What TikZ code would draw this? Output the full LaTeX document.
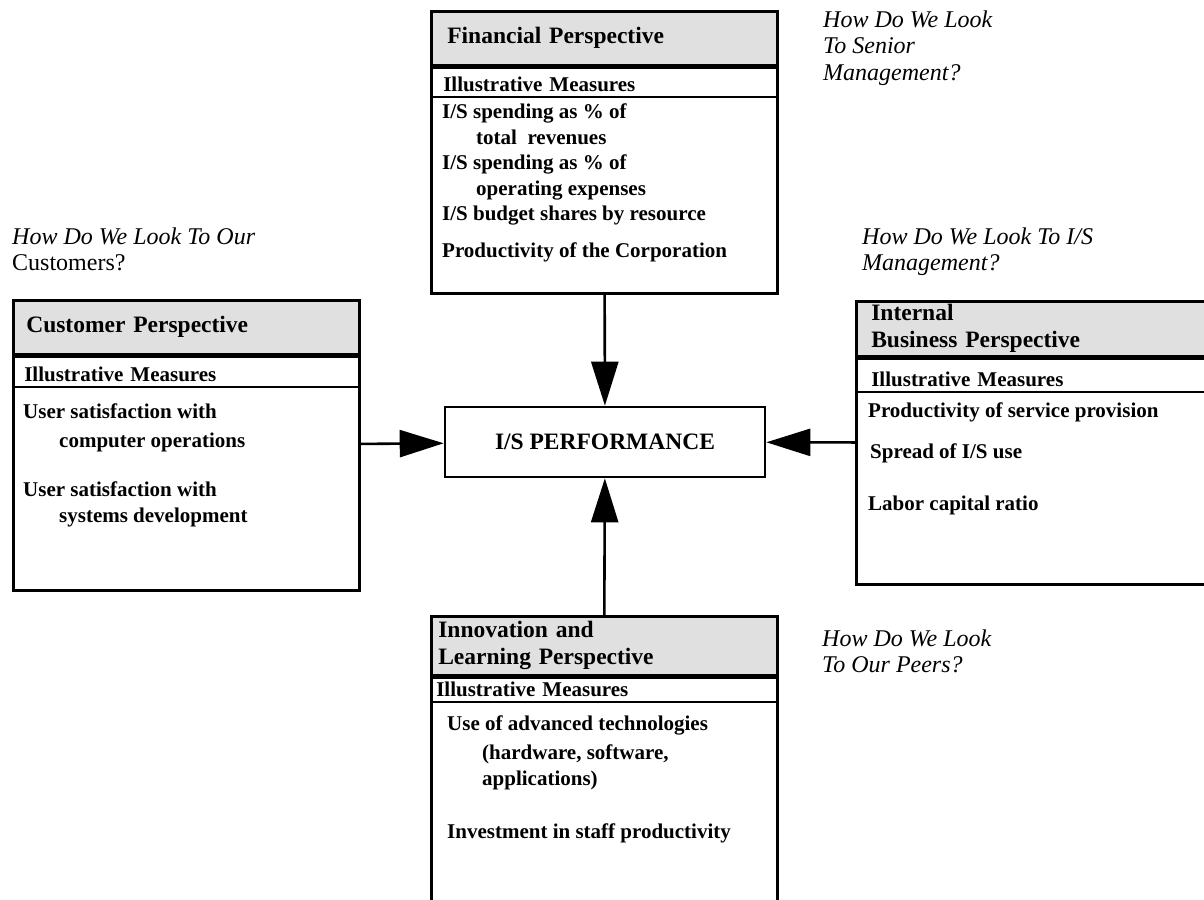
\documentclass[tikz,border=0pt]{standalone}
\usepackage{fontspec}
\setmainfont{Liberation Serif}
\usetikzlibrary{positioning}
\usetikzlibrary{arrows.meta}
\newcommand{\pspHead}{\fontsize{23.5pt}{27pt}\selectfont\bfseries}
\newcommand{\pspBody}{\fontsize{21pt}{25.5pt}\selectfont\bfseries}
\newcommand{\pspAsk}{\fontsize{24pt}{26pt}\selectfont\itshape}

\begin{document}
\begin{tikzpicture}
    [x=1pt, y=-1pt,
    panel/.style={draw, line width=2.6pt, inner sep=0pt, anchor=north west},
    headbar/.style={draw, line width=2.6pt, fill=black!12, anchor=north west, inner ysep=0pt, align=left, font=\pspHead},
    measrow/.style={draw, line width=2.6pt, anchor=north west, inner ysep=0pt, text depth=5pt, align=left, font=\pspBody},
    items/.style={anchor=base west, inner sep=0pt, align=left, font=\pspBody},
    ask/.style={anchor=base west, inner sep=0pt, align=left, font=\pspAsk},
    hub/.style={draw, line width=2.6pt, minimum width=320pt, minimum height=70pt, font=\pspHead},
    flow/.style={line width=2.6pt, -{Triangle[length=44pt, width=27pt]}}]
    \useasboundingbox (0,0) rectangle (1204,899);
    \clip (0,0) rectangle (1204,899);

    % financial (lists sit on the baseline of their last line)
    \node[panel, minimum width=346pt, minimum height=282pt] (fin) at (430,10) {};
    \node[headbar, text width=314pt, inner xsep=16pt, minimum height=54pt] (finhead) at (fin.north west) {Financial Perspective};
    \node[measrow, text width=322pt, inner xsep=12pt, text height=24pt] (finmeas) at (finhead.south west) {Illustrative Measures};
    \node[items] (finlist) at (442,257) {I/S spending as \% of\\\hspace*{34pt}total~~revenues\\I/S spending as \% of\\\hspace*{34pt}operating expenses\\I/S budget shares by resource\\[11pt]Productivity of the Corporation};

    % customer
    \node[panel, minimum width=346pt, minimum height=290pt] (cust) at (12,299) {};
    \node[headbar, text width=320pt, inner xsep=13pt, minimum height=54pt] (custhead) at (cust.north west) {Customer Perspective};
    \node[measrow, text width=324pt, inner xsep=11pt, text height=25pt] (custmeas) at (custhead.south west) {Illustrative Measures};
    \node[items] (custlist) at (23,522) {User satisfaction with\\[3pt]\hspace*{36pt}computer operations\\[24pt]User satisfaction with\\\hspace*{36pt}systems development};

    % internal
    \node[panel, minimum width=385pt, minimum height=283pt] (intl) at (855,300) {};
    \node[headbar, text width=355pt, inner xsep=15pt, minimum height=55pt] (intlhead) at (intl.north west) {Internal\\Business Perspective};
    \node[measrow, text width=355pt, inner xsep=15pt, text height=28pt] (intlmeas) at (intlhead.south west) {Illustrative Measures};
    \node[items] (intllist) at (868,510) {Productivity of service provision\\[15.5pt]\hspace*{2pt}Spread of I/S use\\[26.5pt]Labor capital ratio};

    % innovation
    \node[panel, minimum width=346pt, minimum height=330pt] (inno) at (430,615) {};
    \node[headbar, text width=332pt, inner xsep=7pt, minimum height=59pt] (innohead) at (inno.north west) {Innovation and\\Learning Perspective};
    \node[measrow, text width=336pt, inner xsep=5pt, text height=19pt] (innomeas) at (innohead.south west) {Illustrative Measures};
    \node[items] (innolist) at (447,838) {Use of advanced technologies\\[3.5pt]\hspace*{35pt}(hardware, software,\\\hspace*{35pt}applications)\\[27.5pt]Investment in staff productivity};

    \node[hub] (perf) at (605,442) {I/S PERFORMANCE};

    \node[ask] (askfin) at (823,80) {How Do We Look\\To Senior\\Management?};
    \node[ask] (askcust) at (12,270) {How Do We Look To Our\\{\upshape Customers?}};
    \node[ask] (askintl) at (862,270) {How Do We Look To I/S\\Management?};
    \node[ask] (askinno) at (822,672) {How Do We Look\\To Our Peers?};

    \draw[flow] (fin) -- (perf);
    \draw[flow] (cust) -- (perf);
    \draw[flow] (intl) -- (perf);
    \draw[flow] (inno.north) -- (perf);
\end{tikzpicture}
\end{document}
